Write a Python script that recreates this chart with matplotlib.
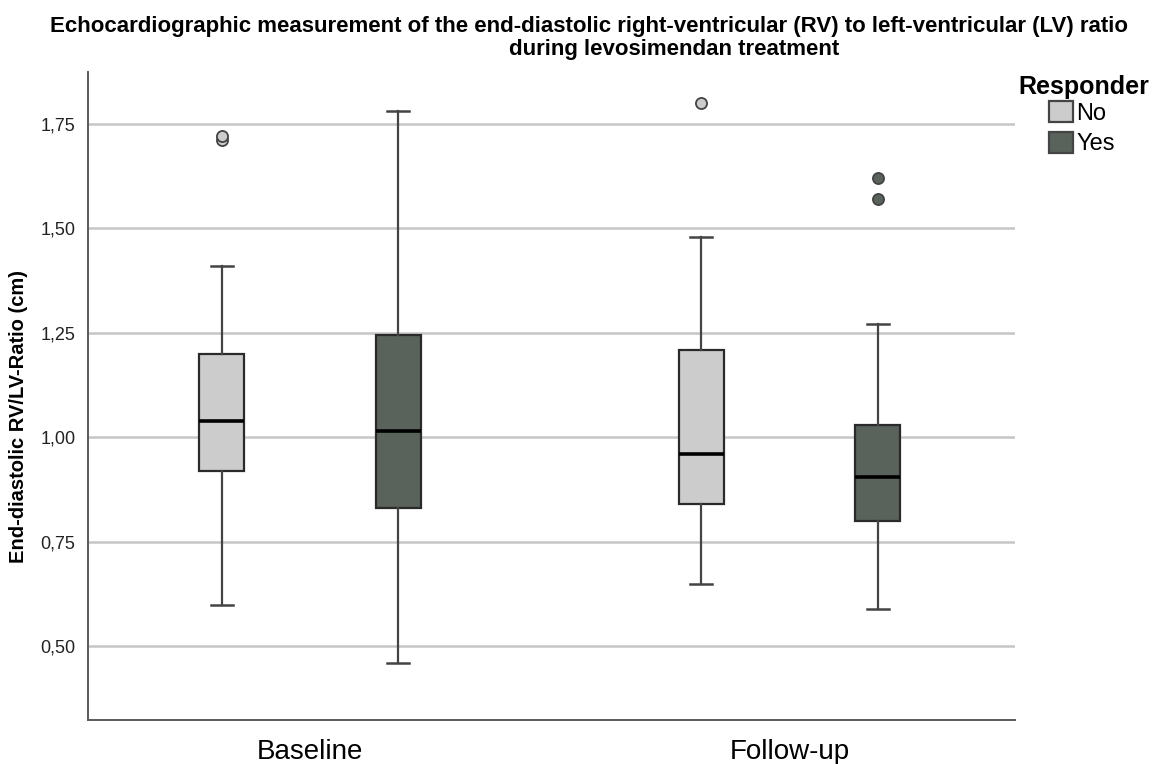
import matplotlib.pyplot as plt
from matplotlib.patches import Patch

# data (RV/LV ratio)
groups = ['Baseline', 'Follow-up']
responders = ['No', 'Yes']
fill_colors = ['#cccccc', '#5a625c']

# [Baseline, Follow-up] for each responder group
whislo = {'No': [0.60, 0.65], 'Yes': [0.46, 0.59]}
q1 = {'No': [0.92, 0.84], 'Yes': [0.83, 0.80]}
med = {'No': [1.04, 0.96], 'Yes': [1.015, 0.905]}
q3 = {'No': [1.20, 1.21], 'Yes': [1.245, 1.03]}
whishi = {'No': [1.41, 1.48], 'Yes': [1.78, 1.27]}
fliers = {'No': [[1.71, 1.72], [1.80]], 'Yes': [[], [1.57, 1.62]]}

yticks = [0.50, 0.75, 1.00, 1.25, 1.50, 1.75]

plt.rcParams['font.family'] = ['Liberation Sans', 'DejaVu Sans']

fig = plt.figure(figsize=(11.57, 7.64), dpi=100)
ax = fig.add_axes([0.076, 0.058, 0.801, 0.848])

offset = 0.184
for j, r in enumerate(responders):
    stats = []
    for i in range(len(groups)):
        stats.append(dict(med=med[r][i], q1=q1[r][i], q3=q3[r][i],
                          whislo=whislo[r][i], whishi=whishi[r][i],
                          fliers=fliers[r][i]))
    pos = [i + (offset if j else -offset) for i in range(len(groups))]
    ax.bxp(stats, positions=pos, widths=0.094, patch_artist=True,
           showfliers=True, manage_ticks=False,
           boxprops=dict(facecolor=fill_colors[j], edgecolor='#2a2a2a', linewidth=1.6),
           medianprops=dict(color='black', linewidth=2.6),
           whiskerprops=dict(color='#444444', linewidth=1.6),
           capprops=dict(color='#444444', linewidth=1.8),
           capwidths=0.046,
           flierprops=dict(marker='o', markersize=8, markerfacecolor=fill_colors[j],
                           markeredgecolor='#444444', markeredgewidth=1.3),
           zorder=3)

ax.set_xlim(-0.4625, 1.469)
ax.set_ylim(0.325, 1.874)
ax.set_yticks(yticks)
ax.set_yticklabels([f'{v:.2f}'.replace('.', ',') for v in yticks],
                   fontsize=13, color='#222222')
ax.set_xticks(range(len(groups)))
ax.set_xticklabels(groups, fontsize=20)
ax.tick_params(axis='both', length=0)
ax.tick_params(axis='y', pad=9)
ax.tick_params(axis='x', pad=14)
ax.yaxis.grid(True, color='#c6c6c6', linewidth=1.8, zorder=0)
ax.set_axisbelow(True)
for s in ['top', 'right']:
    ax.spines[s].set_visible(False)
for s in ['left', 'bottom']:
    ax.spines[s].set_color('#5a5a5a')
    ax.spines[s].set_linewidth(1.4)

ax.set_ylabel('End-diastolic RV/LV-Ratio (cm)', fontsize=14.5, fontweight='bold')
ax.yaxis.set_label_coords(-0.065, 0.468)

# title (two lines, second line centred further right as in the original)
fig.text(0.509, 0.979,
         'Echocardiographic measurement of the end-diastolic right-ventricular (RV) to left-ventricular (LV) ratio',
         ha='center', va='top', fontsize=16, fontweight='bold')
fig.text(0.583, 0.949, 'during levosimendan treatment',
         ha='center', va='top', fontsize=16, fontweight='bold')

# legend
fig.text(1018 / 1157, 1 - 75 / 764, 'Responder', ha='left', va='top',
         fontsize=18, fontweight='bold')
handles = [Patch(facecolor=c, edgecolor='#444444', linewidth=1.6) for c in fill_colors]
fig.legend(handles, responders, loc='upper left',
           bbox_to_anchor=(1049 / 1157, 1 - 101 / 764), frameon=False, fontsize=17,
           handlelength=1.0, handleheight=1.0, handletextpad=0.15,
           labelspacing=0.3, borderaxespad=0, borderpad=0)

fig.savefig('out.png', dpi=100)
